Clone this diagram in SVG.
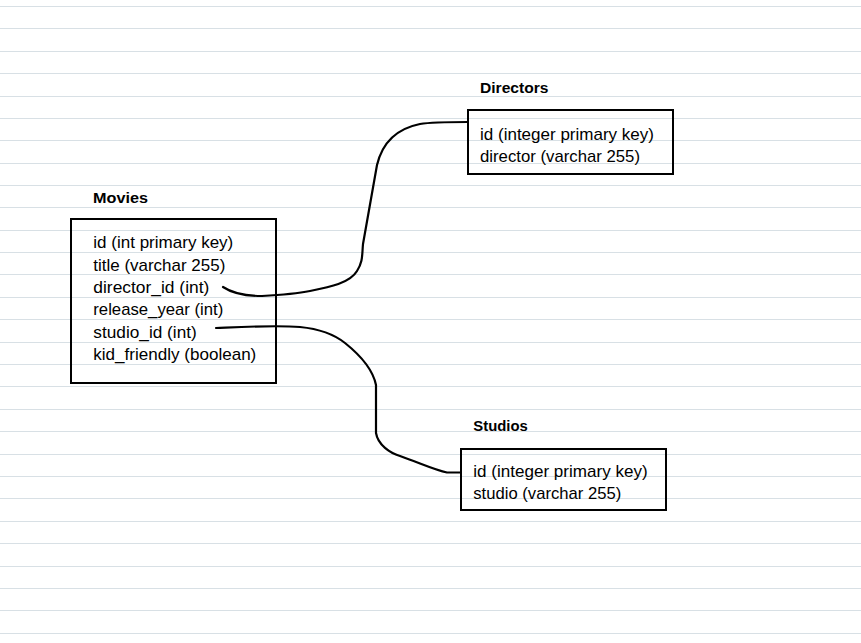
<svg xmlns="http://www.w3.org/2000/svg" width="861" height="643" viewBox="0 0 861 643">
  <style>
    .rule { stroke: #d8e0e5; stroke-width: 1; fill: none; }
    .box { fill: none; stroke: #000; stroke-width: 2; }
    .title { font-family: "Liberation Sans", Arial, sans-serif; font-weight: bold; font-size: 15.5px; fill: #000; }
    .field { font-family: "Liberation Sans", Arial, sans-serif; font-size: 17px; fill: #000; }
    .conn { fill: none; stroke: #000; stroke-width: 2.2; stroke-linecap: round; stroke-linejoin: round; }
  </style>
  <rect width="861" height="643" fill="#ffffff"/>
  <path class="rule" d="M0 6.5H861M0 28.5H861M0 51.5H861M0 73.5H861M0 96.5H861M0 118.5H861M0 140.5H861M0 163.5H861M0 185.5H861M0 207.5H861M0 230.5H861M0 252.5H861M0 274.5H861M0 297.5H861M0 319.5H861M0 342.5H861M0 364.5H861M0 386.5H861M0 409.5H861M0 431.5H861M0 454.5H861M0 476.5H861M0 498.5H861M0 521.5H861M0 543.5H861M0 566.5H861M0 588.5H861M0 610.5H861M0 633.5H861"/>

  <g id="connectors">
    <path id="conn-director" class="conn" d="M223,287 C235,295 250,296 262,296 C280,295 295,294 310,291 C330,287 350,283 357,271 C363,262 362,255 363,244 L377,165 C383,140 400,128 420,124 C432,122 445,122 468,122"/>
    <path id="conn-studio" class="conn" d="M216,328 C240,327 275,325 300,327 C320,329 335,335 345,343 C360,355 373,370 376,385 L376,433 C378,445 390,453 400,456 C420,463 435,470 447,472.5 L461,472.5"/>
  </g>

  <g id="movies">
    <text class="title" x="93" y="202.5" textLength="55" lengthAdjust="spacingAndGlyphs">Movies</text>
    <rect class="box" x="71" y="219" width="205" height="164"/>
    <text class="field" x="93.3" y="248.3" textLength="140" lengthAdjust="spacingAndGlyphs">id (int primary key)</text>
    <text class="field" x="93.3" y="270.7" textLength="132" lengthAdjust="spacingAndGlyphs">title (varchar 255)</text>
    <text class="field" x="93.3" y="293" textLength="116" lengthAdjust="spacingAndGlyphs">director_id (int)</text>
    <text class="field" x="93.3" y="315.4" textLength="130" lengthAdjust="spacingAndGlyphs">release_year (int)</text>
    <text class="field" x="93.3" y="337.8" textLength="103.5" lengthAdjust="spacingAndGlyphs">studio_id (int)</text>
    <text class="field" x="93.3" y="360.2" textLength="163" lengthAdjust="spacingAndGlyphs">kid_friendly (boolean)</text>
  </g>

  <g id="directors">
    <text class="title" x="480" y="92.5" textLength="68.5" lengthAdjust="spacingAndGlyphs">Directors</text>
    <rect class="box" x="468" y="110" width="205" height="64"/>
    <text class="field" x="480" y="139.5" textLength="174" lengthAdjust="spacingAndGlyphs">id (integer primary key)</text>
    <text class="field" x="480" y="161.5" textLength="160" lengthAdjust="spacingAndGlyphs">director (varchar 255)</text>
  </g>

  <g id="studios">
    <text class="title" x="473.3" y="430.5" textLength="54.5" lengthAdjust="spacingAndGlyphs">Studios</text>
    <rect class="box" x="461" y="449" width="205" height="61"/>
    <text class="field" x="473.3" y="476.5" textLength="174.3" lengthAdjust="spacingAndGlyphs">id (integer primary key)</text>
    <text class="field" x="473.3" y="498.5" textLength="148" lengthAdjust="spacingAndGlyphs">studio (varchar 255)</text>
  </g>
</svg>
